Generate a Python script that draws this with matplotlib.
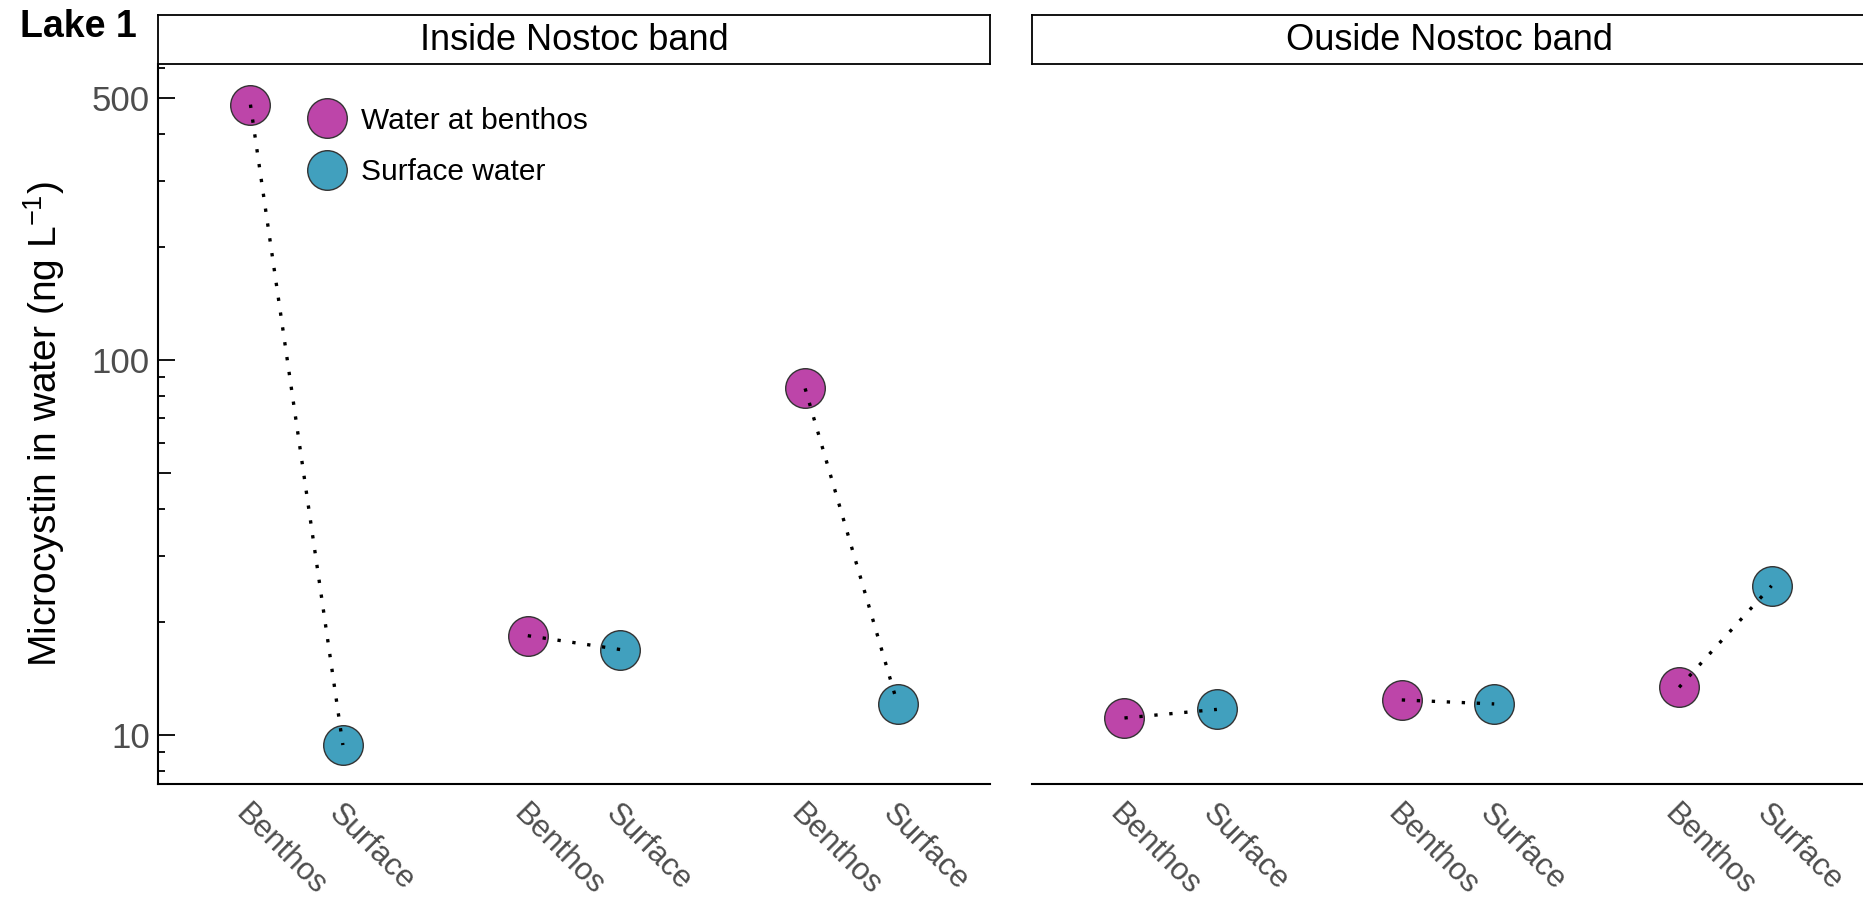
import matplotlib.pyplot as plt
from matplotlib.lines import Line2D
from matplotlib.ticker import FixedLocator, NullLocator
from matplotlib.transforms import ScaledTranslation

plt.rcParams['font.family'] = ['Liberation Sans', 'DejaVu Sans']
plt.rcParams['mathtext.fontset'] = 'custom'
plt.rcParams['mathtext.rm'] = 'Liberation Sans'

# data
panels = ['Inside Nostoc band', 'Ouside Nostoc band']
x_labels = ['Benthos', 'Surface', 'Benthos', 'Surface', 'Benthos', 'Surface']
x_ticks = [1, 2, 4, 5, 7, 8]
x_benthos = [1, 4, 7]
x_surface = [2, 5, 8]
inside_benthos = [480, 18.4, 84]
inside_surface = [9.4, 16.9, 12.1]
outside_benthos = [11.1, 12.4, 13.4]
outside_surface = [11.7, 12.1, 25.0]

c_benthos = '#BD45A9'
c_surface = '#41A0BE'
grey = '#4D4D4D'

fig = plt.figure(figsize=(18.63, 8.98), dpi=100)

W, H = 1863, 898
def box(x0, y0, x1, y1):
    # pixel box (top-left origin) -> figure fraction
    return [x0 / W, 1 - y1 / H, (x1 - x0) / W, (y1 - y0) / H]

ax1 = fig.add_axes(box(158, 64, 990, 784))
ax2 = fig.add_axes(box(1032, 64, 1864, 784))
s1 = fig.add_axes(box(158, 15, 990, 64))
s2 = fig.add_axes(box(1032, 15, 1866, 64))

data = [(ax1, inside_benthos, inside_surface), (ax2, outside_benthos, outside_surface)]

for ax, ben, sur in data:
    ax.plot(x_benthos, ben, 'o', ms=28.5, mfc=c_benthos, mec='#333333', mew=1.0, zorder=3)
    ax.plot(x_surface, sur, 'o', ms=28.5, mfc=c_surface, mec='#333333', mew=1.0, zorder=3)
    # dotted connector drawn over the points, as in the original
    for xb, xs, b, s in zip(x_benthos, x_surface, ben, sur):
        ax.plot([xb, xs], [b, s], color='black', lw=2.4,
                linestyle=(0, (1, 3.5)), zorder=4)

    ax.set_yscale('log')
    ax.set_ylim(7.4, 616)
    ax.set_xlim(0, 9)
    ax.set_xticks(x_ticks)
    ax.set_xticklabels(x_labels, rotation=-45, ha='left', va='center',
                       rotation_mode='anchor', fontsize=22.5, color=grey)
    ax.tick_params(axis='x', length=0, pad=18)
    off = ScaledTranslation(-10 / 100, 0, fig.dpi_scale_trans)
    for lab in ax.get_xticklabels():
        lab.set_transform(lab.get_transform() + off)
    for sp in ['top', 'right']:
        ax.spines[sp].set_visible(False)
    ax.spines['bottom'].set_linewidth(1.5)
    ax.spines['left'].set_linewidth(1.5)

# y axis only on the left panel
ax1.yaxis.set_major_locator(FixedLocator([10, 100, 500]))
ax1.set_yticklabels(['10', '100', '500'], fontsize=25, color=grey)
ax1.yaxis.set_minor_locator(FixedLocator([8, 9, 20, 30, 40, 60, 70, 80, 90, 200, 300, 400, 600]))
ax1.tick_params(axis='y', which='major', direction='in', length=12, width=1.3, pad=6)
ax1.tick_params(axis='y', which='minor', direction='in', length=5, width=1.3)
ax1.set_ylabel(r'Microcystin in water (ng L$^{-1}$)', fontsize=28, labelpad=18)

sec = ax1.secondary_yaxis('left')
sec.yaxis.set_major_locator(FixedLocator([50]))
sec.yaxis.set_minor_locator(NullLocator())
sec.tick_params(axis='y', direction='in', length=9, width=1.3, labelleft=False)
sec.spines['left'].set_visible(False)

ax2.spines['left'].set_visible(False)
ax2.tick_params(axis='y', which='both', left=False, labelleft=False)

for s, title in zip([s1, s2], panels):
    s.set_xticks([])
    s.set_yticks([])
    for sp in s.spines.values():
        sp.set_linewidth(1.3)
    s.text(0.5, 0.48, title, ha='center', va='center', fontsize=26, transform=s.transAxes)

handles = [Line2D([], [], marker='o', ls='', ms=28.5, mfc=c_benthos, mec='#333333', mew=1.0),
           Line2D([], [], marker='o', ls='', ms=28.5, mfc=c_surface, mec='#333333', mew=1.0)]
ax1.legend(handles, ['Water at benthos', 'Surface water'], loc='upper left',
           bbox_to_anchor=(0.153, 0.978), frameon=False, fontsize=21.5,
           handlelength=1.0, handletextpad=0.65, labelspacing=0.78)

fig.text(20 / W, 1 - 9 / H, 'Lake 1', ha='left', va='top', fontsize=27,
         fontweight='bold', fontstretch='condensed')

fig.savefig('out.png', dpi=100)
